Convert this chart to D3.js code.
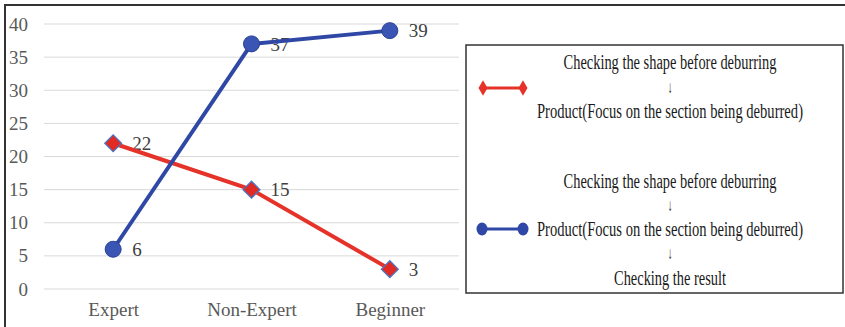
<!DOCTYPE html>
<html>
<head>
<meta charset="utf-8">
<script src="https://cdn.jsdelivr.net/npm/d3@7"></script>
<style>
  html, body { margin: 0; padding: 0; background: #fff; }
  svg { display: block; }
  text { font-family: "Liberation Serif", "Times New Roman", serif; }
</style>
</head>
<body>
<svg id="chart" width="845" height="327"></svg>
<script>
// Categories and series values
const categories = ["Expert", "Non-Expert", "Beginner"];
const redValues = [22, 15, 3];
const blueValues = [6, 37, 39];
const yTicks = [0, 5, 10, 15, 20, 25, 30, 35, 40];

// Legend text, one array of lines per series
const redLegendLines = ["Checking the shape before deburring", "↓", "Product(Focus on the section being deburred)"];
const blueLegendLines = ["Checking the shape before deburring", "↓", "Product(Focus on the section being deburred)", "↓", "Checking the result"];

const svg = d3.select("#chart");

const x = d3.scalePoint().domain(categories).range([44, 459]).padding(0.5);
const y = d3.scaleLinear().domain([0, 40]).range([289, 24]);

const RED = "#e5332a";
const BLUE = "#2f48a6";

// Outer frame (top and left edges)
svg.append("path")
  .attr("d", "M5,327 V5 H845")
  .attr("fill", "none")
  .attr("stroke", "#333")
  .attr("stroke-width", 2);

// Horizontal gridlines
svg.append("g")
  .selectAll("line")
  .data(yTicks)
  .join("line")
  .attr("x1", 44).attr("x2", 459)
  .attr("y1", d => y(d)).attr("y2", d => y(d))
  .attr("stroke", "#d9d9d9")
  .attr("stroke-width", 1);

// Y axis labels
const yAxis = d3.axisLeft(y).tickValues(yTicks).tickSize(0).tickPadding(0);
svg.append("g")
  .attr("transform", "translate(28,0)")
  .call(yAxis)
  .call(g => g.select(".domain").remove())
  .call(g => g.selectAll("text")
    .attr("font-family", "Liberation Serif, serif")
    .attr("font-size", 19)
    .attr("fill", "#595959"));

// X axis labels
const xAxis = d3.axisBottom(x).tickSize(0).tickPadding(0);
svg.append("g")
  .attr("transform", "translate(0,302)")
  .call(xAxis)
  .call(g => g.select(".domain").remove())
  .call(g => g.selectAll("text")
    .attr("font-family", "Liberation Serif, serif")
    .attr("font-size", 19)
    .attr("fill", "#595959"));

// Data labels (drawn beneath the lines)
function addLabels(values) {
  svg.append("g")
    .selectAll("text")
    .data(values)
    .join("text")
    .attr("x", (d, i) => x(categories[i]) + 19)
    .attr("y", d => y(d))
    .attr("dy", "0.35em")
    .attr("font-size", 19)
    .attr("fill", "#404040")
    .text(d => d);
}
addLabels(redValues);
addLabels(blueValues);

const line = d3.line().x((d, i) => x(categories[i])).y(d => y(d));

// Red series
svg.append("path")
  .datum(redValues)
  .attr("d", line)
  .attr("fill", "none")
  .attr("stroke", RED)
  .attr("stroke-width", 4);

// Blue series
svg.append("path")
  .datum(blueValues)
  .attr("d", line)
  .attr("fill", "none")
  .attr("stroke", BLUE)
  .attr("stroke-width", 4);

// Diamond markers (square turned on its corner)
const diamond = d3.symbol().type(d3.symbolDiamond2).size(180);

svg.append("g")
  .selectAll("path")
  .data(redValues)
  .join("path")
  .attr("d", diamond)
  .attr("transform", (d, i) => `translate(${x(categories[i])},${y(d)})`)
  .attr("fill", "#e02b24")
  .attr("stroke", "#4a74c4")
  .attr("stroke-width", 1.3);

svg.append("g")
  .selectAll("circle")
  .data(blueValues)
  .join("circle")
  .attr("cx", (d, i) => x(categories[i]))
  .attr("cy", d => y(d))
  .attr("r", 8)
  .attr("fill", "#3a55b3")
  .attr("stroke", "#2b4197")
  .attr("stroke-width", 1);

// Legend box
const legend = svg.append("g");
legend.append("rect")
  .attr("x", 466).attr("y", 45)
  .attr("width", 377).attr("height", 248)
  .attr("fill", "#fff")
  .attr("stroke", "#333")
  .attr("stroke-width", 1.5);

// Legend keys
const redKeyY = 88, blueKeyY = 229;
legend.append("line")
  .attr("x1", 483).attr("x2", 523)
  .attr("y1", redKeyY).attr("y2", redKeyY)
  .attr("stroke", RED).attr("stroke-width", 3);
legend.selectAll(".rk")
  .data([483, 523])
  .join("path")
  .attr("d", d3.symbol().type(d3.symbolDiamond).size(70))
  .attr("transform", d => `translate(${d},${redKeyY})`)
  .attr("fill", RED);

legend.append("line")
  .attr("x1", 482).attr("x2", 523)
  .attr("y1", blueKeyY).attr("y2", blueKeyY)
  .attr("stroke", BLUE).attr("stroke-width", 3);
legend.selectAll(".bk")
  .data([482, 523])
  .join("ellipse")
  .attr("cx", d => d).attr("cy", blueKeyY)
  .attr("rx", 5.5).attr("ry", 6.5)
  .attr("fill", BLUE);

// Legend text lines in a condensed serif: each line is squeezed horizontally to its width
const textWidths = {
  "Checking the shape before deburring": 213,
  "Product(Focus on the section being deburred)": 266,
  "Checking the result": 112
};
function legendText(lines, ys) {
  lines.forEach((t, i) => {
    const isArrow = t === "↓";
    const g = legend.append("g");
    const el = g.append("text")
      .attr("x", 0)
      .attr("y", 0)
      .attr("dy", "0.35em")
      .attr("text-anchor", "middle")
      .attr("font-size", isArrow ? 17 : 20)
      .attr("fill", "#1a1a1a")
      .text(t);
    let sx = 1;
    if (isArrow) {
      sx = 0.55;
    } else {
      const w = el.node().getComputedTextLength();
      sx = textWidths[t] / w;
    }
    g.attr("transform", `translate(670,${ys[i]}) scale(${sx},1)`);
  });
}
legendText(redLegendLines, [62, 87, 111]);
legendText(blueLegendLines, [181, 205, 229, 253, 278]);
</script>
</body>
</html>
